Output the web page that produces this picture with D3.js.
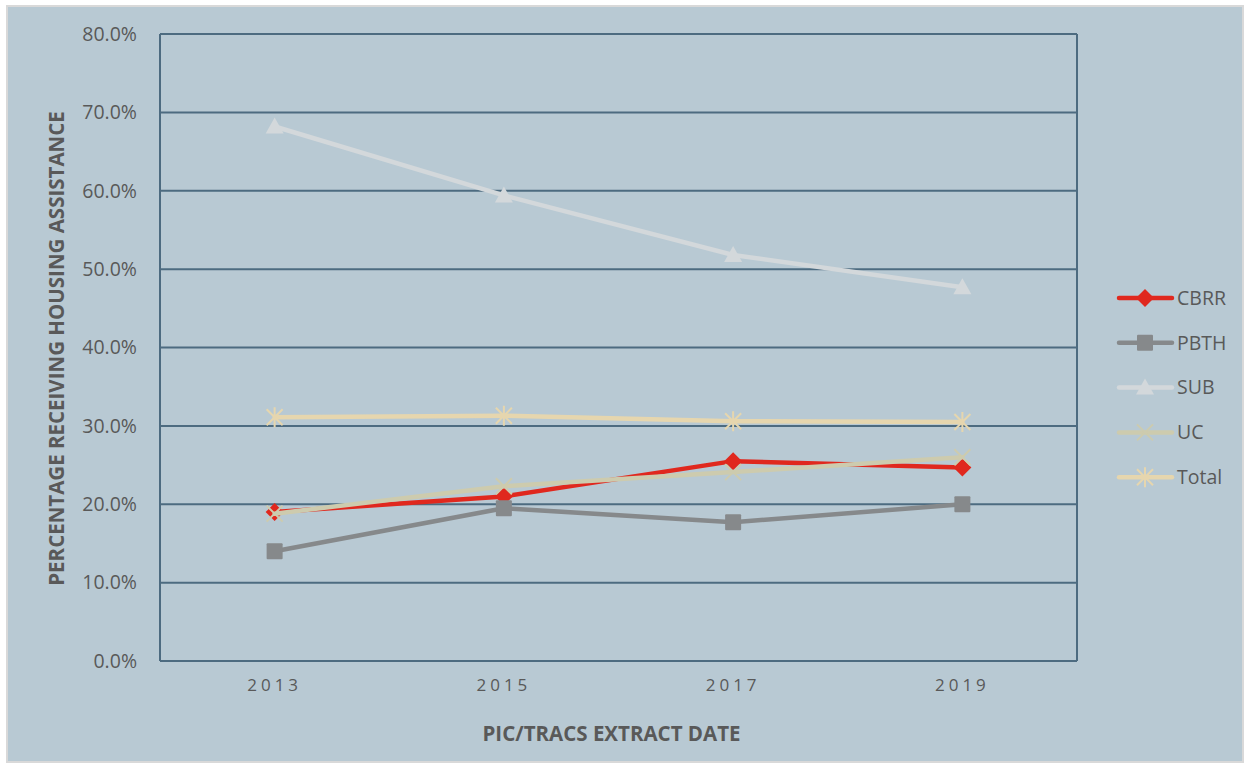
<!DOCTYPE html>
<html lang="en">
<head>
<meta charset="UTF-8">
<title>Percentage Receiving Housing Assistance</title>
<style>
  body { margin: 0; background: #fff; }
  text { font-family: "Open Sans", "Liberation Sans", sans-serif; fill: #595959; }
</style>
</head>
<body>
<script src="https://cdn.jsdelivr.net/npm/d3@7"></script>
<div id="chart"></div>
<script>
// data
const years = ["2013", "2015", "2017", "2019"];
const yTicks = [0, 0.1, 0.2, 0.3, 0.4, 0.5, 0.6, 0.7, 0.8];
const cbrr = [0.190, 0.210, 0.255, 0.247];
const pbth = [0.140, 0.195, 0.177, 0.200];
const sub = [0.682, 0.594, 0.518, 0.477];
const uc = [0.188, 0.223, 0.241, 0.260];
const total = [0.311, 0.313, 0.306, 0.305];
const seriesNames = ["CBRR", "PBTH", "SUB", "UC", "Total"];

const series = [
  {name: seriesNames[0], values: cbrr, color: "#e0281e", marker: "diamond"},
  {name: seriesNames[1], values: pbth, color: "#86898b", marker: "square"},
  {name: seriesNames[2], values: sub, color: "#d3d8db", marker: "triangle"},
  {name: seriesNames[3], values: uc, color: "#cdcbae", marker: "x"},
  {name: seriesNames[4], values: total, color: "#e6d6ae", marker: "star"}
];

const W = 1250, H = 767;
const margin = {top: 34, right: 173, bottom: 106, left: 160};
const width = W - margin.left - margin.right;
const height = H - margin.top - margin.bottom;

const svg = d3.select("#chart").append("svg")
  .attr("width", W).attr("height", H);

// chart background with light border
svg.append("rect")
  .attr("x", 7).attr("y", 6)
  .attr("width", 1236).attr("height", 756)
  .attr("fill", "#b8c9d3")
  .attr("stroke", "#d9d9d9").attr("stroke-width", 2);

const g = svg.append("g").attr("transform", `translate(${margin.left},${margin.top})`);

const x = d3.scaleBand().domain(years).range([0, width]).padding(0);
const y = d3.scaleLinear().domain([0, 0.8]).range([height, 0]);
const cx = d => x(d) + x.bandwidth() / 2;

// gridlines
g.append("g")
  .selectAll("line")
  .data(yTicks)
  .join("line")
    .attr("x1", 0).attr("x2", width)
    .attr("y1", d => y(d)).attr("y2", d => y(d))
    .attr("stroke", "#4d6b80").attr("stroke-width", 2);

// plot borders left and right
g.append("line")
  .attr("x1", 0).attr("x2", 0).attr("y1", 0).attr("y2", height)
  .attr("stroke", "#4d6b80").attr("stroke-width", 2);
g.append("line")
  .attr("x1", width).attr("x2", width).attr("y1", 0).attr("y2", height)
  .attr("stroke", "#4d6b80").attr("stroke-width", 2);

// y axis labels
const yAxis = g.append("g")
  .call(d3.axisLeft(y).tickValues(yTicks).tickFormat(d3.format(".1%")).tickSize(0).tickPadding(23));
yAxis.select(".domain").remove();
yAxis.selectAll("text")
  .style("font-size", "19.5px")
  .style("font-family", "'Open Sans', sans-serif")
  .attr("fill", "#595959");

// x axis labels
const xAxis = g.append("g")
  .attr("transform", `translate(0,${height})`)
  .call(d3.axisBottom(x).tickSize(0).tickPadding(18));
xAxis.select(".domain").remove();
xAxis.selectAll("text")
  .style("font-size", "17px")
  .style("letter-spacing", "4px")
  .style("font-family", "'Open Sans', sans-serif")
  .attr("fill", "#595959");

// axis titles
svg.append("text")
  .attr("x", margin.left + width / 2 - 7).attr("y", 741)
  .attr("text-anchor", "middle")
  .style("font-size", "20.5px").style("font-weight", "bold")
  .text("PIC/TRACS EXTRACT DATE");

svg.append("text")
  .attr("transform", `translate(64,${margin.top + height / 2 + 1}) rotate(-90)`)
  .attr("text-anchor", "middle")
  .style("font-size", "20.5px").style("font-weight", "bold")
  .text("PERCENTAGE RECEIVING HOUSING ASSISTANCE");

// marker drawing
function drawMarker(sel, type, color) {
  if (type === "diamond") {
    sel.append("path").attr("d", "M0,-9L9,0L0,9L-9,0Z").attr("fill", color);
  } else if (type === "square") {
    sel.append("rect").attr("x", -8).attr("y", -8).attr("width", 16).attr("height", 16)
      .attr("rx", 1).attr("fill", color);
  } else if (type === "triangle") {
    sel.append("path").attr("d", "M0,-9L9,7L-9,7Z").attr("fill", color);
  } else if (type === "x") {
    sel.append("path").attr("d", "M-8,-8L8,8M-8,8L8,-8").attr("stroke", color).attr("stroke-width", 2);
  } else if (type === "star") {
    sel.append("path").attr("d", "M-8,-8L8,8M-8,8L8,-8M0,-10L0,10").attr("stroke", color).attr("stroke-width", 2);
  }
}

const line = d3.line().x((d, i) => cx(years[i])).y(d => y(d));

series.forEach(s => {
  const sg = g.append("g");
  sg.append("path")
    .datum(s.values)
    .attr("d", line)
    .attr("fill", "none")
    .attr("stroke", s.color)
    .attr("stroke-width", 4.5)
    .attr("stroke-linejoin", "round")
    .attr("stroke-linecap", "round");
  sg.selectAll("g.pt")
    .data(s.values)
    .join("g")
      .attr("class", "pt")
      .attr("transform", (d, i) => `translate(${cx(years[i])},${y(d)})`)
      .each(function() { drawMarker(d3.select(this), s.marker, s.color); });
});

// legend
const legend = svg.append("g").attr("transform", "translate(1117,298)");
const lg = legend.selectAll("g")
  .data(series)
  .join("g")
    .attr("transform", (d, i) => `translate(0,${i * 44.8})`);
lg.append("line")
  .attr("x1", 2).attr("x2", 55).attr("y1", 0).attr("y2", 0)
  .attr("stroke", d => d.color).attr("stroke-width", 4.5).attr("stroke-linecap", "round");
lg.each(function(d) {
  const m = d3.select(this).append("g").attr("transform", "translate(28,0)");
  drawMarker(m, d.marker, d.color);
});
lg.append("text")
  .attr("x", 60).attr("y", 0).attr("dy", "0.35em")
  .style("font-size", "19.5px")
  .text(d => d.name);
</script>
</body>
</html>
